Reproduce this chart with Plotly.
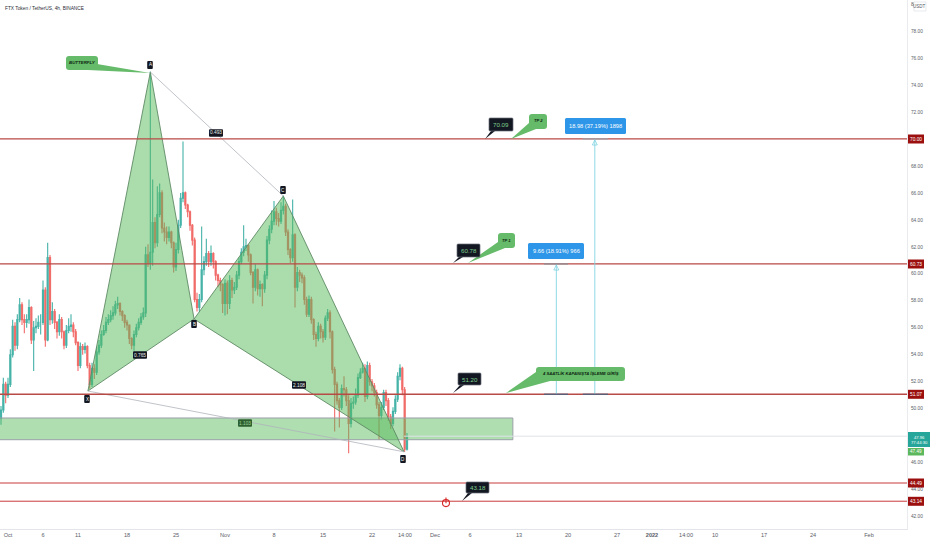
import plotly.graph_objects as go
import pandas as pd

PW, PH = 907.0, 529.0
START = "2021-09-30 00:00"
CLOSES = [49.9,51.8,51.0,51.8,54.0,56.1,54.7,56.6,57.7,56.6,
56.4,56.6,57.5,55.1,56.0,56.1,56.4,56.4,58.8,55.1,
61.2,56.6,57.2,56.4,55.7,56.6,55.7,54.7,55.8,56.1,
56.2,55.7,54.9,53.2,54.6,54.4,54.6,53.2,51.8,53.0,
52.7,54.2,54.7,55.5,55.8,56.4,56.6,56.9,57.1,57.7,
57.8,57.2,56.9,56.4,56.2,55.2,54.7,55.5,56.0,56.4,
56.8,57.1,61.4,60.8,61.6,63.8,62.3,64.4,66.0,63.4,
63.1,62.7,63.1,62.3,60.5,61.8,63.6,65.6,66.0,65.1,
64.6,63.6,62.5,58.1,57.5,58.1,60.3,60.9,61.5,60.9,
61.5,60.9,59.9,59.5,59.2,57.8,59.3,57.8,59.5,58.8,
59.0,59.9,60.9,61.6,62.0,62.1,61.4,60.1,59.0,60.3,
58.9,59.2,58.9,59.9,62.5,63.3,63.9,64.6,64.1,63.9,
64.7,65.0,63.1,61.8,61.2,62.9,59.0,60.1,59.9,59.7,
58.1,57.0,58.1,56.6,55.5,55.2,56.1,55.7,55.3,56.7,
57.1,55.7,52.9,51.8,50.6,50.1,51.5,51.4,50.6,48.9,
50.4,50.5,51.0,52.3,52.7,53.0,50.9,53.2,52.0,51.7,
51.2,50.3,49.5,50.1,51.2,50.6,49.4,48.9,49.8,50.7,
52.4,53.0,51.4,47.0,47.96]
HIGHS = [50.2,52.3,52.0,52.3,54.4,56.6,56.4,57.0,58.2,57.9,
57.0,57.0,58.1,57.6,56.5,56.7,56.9,57.0,59.5,59.0,
62.3,61.4,57.9,57.4,56.5,57.0,56.8,55.8,56.2,56.7,
57.0,56.4,55.9,55.0,54.9,54.8,54.9,54.7,53.4,53.4,
53.3,54.6,55.1,55.8,56.2,56.8,57.0,57.3,57.6,58.0,
58.3,57.9,57.3,57.0,56.6,56.2,55.3,55.8,56.3,56.7,
57.1,57.5,62.0,62.2,75.0,67.0,64.2,66.5,66.7,66.2,
63.8,63.5,63.5,63.2,62.4,62.3,64.0,66.0,69.8,66.1,
65.2,64.7,63.7,62.7,58.6,58.5,63.5,61.3,62.6,61.7,
62.1,61.6,61.0,60.0,59.7,59.3,59.6,59.5,59.9,59.7,
59.4,60.2,61.2,61.9,63.6,62.6,62.2,61.5,60.2,60.7,
60.4,59.5,59.3,60.2,62.8,63.6,64.7,65.4,64.9,64.5,
65.3,65.8,65.2,63.3,61.9,65.5,63.0,60.5,60.3,60.1,
59.9,58.3,58.4,58.3,56.7,55.7,56.4,56.3,55.9,56.9,
57.4,57.3,55.8,53.1,52.0,50.8,51.8,52.4,51.6,51.0,
50.8,50.9,51.5,52.6,53.0,53.4,53.3,53.5,53.4,52.2,
51.9,51.4,50.5,50.5,51.4,51.4,50.8,49.6,50.1,51.0,
52.7,53.3,53.1,51.6,48.2]
LOWS = [48.8,49.7,50.4,50.8,51.6,53.8,54.3,54.4,56.4,56.2,
55.6,56.0,56.3,54.8,52.8,55.6,55.9,55.5,56.2,54.6,
55.0,56.2,56.3,55.9,55.2,55.4,55.2,54.4,54.5,55.6,
55.7,55.3,54.7,52.8,53.0,54.0,54.1,53.0,51.5,51.6,
52.2,52.5,54.0,54.5,55.4,55.6,56.2,56.4,56.6,56.9,
57.4,56.9,56.5,56.0,55.8,54.8,54.4,54.3,55.3,55.8,
56.2,56.6,56.8,60.5,60.3,60.6,61.9,62.0,64.2,63.0,
62.4,62.2,62.4,61.9,60.1,60.2,61.5,63.4,65.3,64.8,
64.2,63.2,62.1,57.9,57.2,57.2,57.9,59.9,60.6,60.5,
60.6,60.4,59.5,59.0,58.7,57.1,56.9,57.0,57.4,58.2,
58.5,58.8,59.6,60.7,61.3,61.7,60.9,59.9,57.8,58.7,
58.4,58.3,57.6,58.6,59.6,62.2,63.0,63.6,63.6,63.5,
63.7,64.4,62.8,61.4,60.8,60.9,57.5,58.7,59.4,59.3,
57.7,56.8,56.8,56.3,55.1,54.6,55.0,55.2,54.9,55.1,
56.5,55.2,52.6,48.3,50.3,48.6,49.9,50.9,50.2,46.7,
48.6,50.0,50.3,50.8,52.2,52.6,50.5,50.7,51.7,51.3,
50.9,50.0,47.7,49.2,49.9,50.2,49.1,48.5,48.7,49.6,
50.5,52.1,51.0,46.8,46.9]
OPENS = [49.3] + CLOSES[:-1]

PATTERN_X = ["2021-10-12 10:00", "2021-10-21 08:00", "2021-10-27 14:00", "2021-11-09 08:00", "2021-11-26 14:00"]
PATTERN_Y = [51.31, 74.96, 56.65, 65.77, 46.8]
LEVELS = [70.00, 60.73, 51.07, 44.49, 43.14]
ZONE = [47.70, 49.31]
ZONE_X = ["2021-09-20", "2021-12-12 03:00"]
LAST_PRICE = 47.96
TICK_VALS = ["2021-10-01","2021-10-06","2021-10-11","2021-10-18","2021-10-25","2021-11-01","2021-11-08",
             "2021-11-15","2021-11-22","2021-11-26 17:00","2021-12-01","2021-12-06","2021-12-13","2021-12-20",
             "2021-12-27","2022-01-01","2022-01-05 20:40","2022-01-10","2022-01-17","2022-01-24","2022-02-01"]
TICK_TEXT = ["Oct","6","11","18","25","Nov","8","15","22","14:00","Dec","6","13","20","27","<b>2022</b>","14:00","10","17","24","Feb"]
Y_TICKS = [42,44,46,50,52,54,56,58,60,62,64,66,68,70,72,74,76,78,80]
X_RANGE = ["2021-09-29 20:34", "2022-02-06 10:20"]
Y_RANGE = [41.08, 80.30]
GREEN = "#66bb6a"
DARK = "#131722"

dates = pd.date_range(START, periods=len(CLOSES), freq="8h")

fig = go.Figure()
fig.add_trace(go.Candlestick(x=dates, open=OPENS, high=HIGHS, low=LOWS, close=CLOSES,
    increasing=dict(line=dict(color="#26a69a", width=1.1), fillcolor="#26a69a"),
    decreasing=dict(line=dict(color="#ef5350", width=1.1), fillcolor="#ef5350"),
    whiskerwidth=0, opacity=0.85, hoverinfo="skip"))

def add_line(x, y, color, width=1, dash=None, mode="lines", marker=None):
    fig.add_trace(go.Scatter(x=x, y=y, mode=mode, line=dict(color=color, width=width, dash=dash), marker=marker, hoverinfo="skip"))

# Entry zone
fig.add_trace(go.Scatter(x=[ZONE_X[0], ZONE_X[1], ZONE_X[1], ZONE_X[0], ZONE_X[0]],
    y=[ZONE[0], ZONE[0], ZONE[1], ZONE[1], ZONE[0]], mode="lines", fill="toself",
    fillcolor="rgba(86,185,90,0.47)", line=dict(color="#9a9fa8", width=1), hoverinfo="skip"))

# XABCD triangles
EDGE = "#5f8a64"
for idx in ([0, 1, 2, 0], [2, 3, 4, 2]):
    fig.add_trace(go.Scatter(x=[PATTERN_X[i] for i in idx], y=[PATTERN_Y[i] for i in idx], mode="lines",
        fill="toself", fillcolor="rgba(86,185,90,0.5)", line=dict(color=EDGE, width=0.9), hoverinfo="skip"))
add_line([PATTERN_X[0], PATTERN_X[4]], [PATTERN_Y[0], PATTERN_Y[4]], "#b0b4bb", 0.8)
add_line([PATTERN_X[1], PATTERN_X[3]], [PATTERN_Y[1], PATTERN_Y[3]], "#b0b4bb", 0.8)

# Horizontal levels
for lv, col, w in zip(LEVELS, ["#b84a46", "#b84a46", "#b84a46", "#c93a3a", "#c93a3a"], [1.3, 1.3, 1.3, 1, 1]):
    add_line(X_RANGE, [lv, lv], col, w)
add_line([PATTERN_X[4], X_RANGE[1]], [LAST_PRICE, LAST_PRICE], "#dfe3e8", 1)

# Measure tools
add_line(["2021-12-18 08:00"] * 2, [LEVELS[2], LEVELS[1]], "#82d4e2", 0.9)
add_line(["2021-12-23 20:00"] * 2, [LEVELS[2], LEVELS[0]], "#82d4e2", 0.9)
add_line(["2021-12-18 08:00"], [LEVELS[1] - 0.08], "#82d4e2", mode="markers",
         marker=dict(symbol="arrow-up-open", size=5, color="#82d4e2", line=dict(width=0.8, color="#82d4e2")))
add_line(["2021-12-23 20:00"], [LEVELS[0] - 0.08], "#82d4e2", mode="markers",
         marker=dict(symbol="arrow-up-open", size=5, color="#82d4e2", line=dict(width=0.8, color="#82d4e2")))
add_line(["2021-12-16 14:00", "2021-12-20 00:00"], [LEVELS[2], LEVELS[2]], "#4d6480", 1.2)
add_line(["2021-12-22 03:00", "2021-12-25 17:00"], [LEVELS[2], LEVELS[2]], "#4d6480", 1.2)
add_line(["2021-12-16 14:00", "2021-12-20 00:00"], [LEVELS[1], LEVELS[1]], "#8a8f98", 1.2)
add_line(["2021-12-22 03:00", "2021-12-25 17:00"], [LEVELS[0], LEVELS[0]], "#a0a4ab", 1.2)

# Power icon
add_line(["2021-12-02 13:40"], [43.0], "#d62828", mode="markers",
         marker=dict(symbol="circle-open", size=7, line=dict(width=1.1, color="#d62828")))
add_line(["2021-12-02 13:40"], [43.2], "#d62828", mode="markers",
         marker=dict(symbol="line-ns", size=4, line=dict(width=1.1, color="#d62828")))

shapes, annos = [], []
def P(x, y):
    return x / PW, 1 - y / PH

def rbox(x0, y0, x1, y1, fill, line=None, r=2):
    a, b = P(x0, y0); c, d = P(x1, y1)
    rx, ry = r / PW, r / PH
    path = (f"M {a+rx} {b} L {c-rx} {b} Q {c} {b} {c} {b-ry} L {c} {d+ry} Q {c} {d} {c-rx} {d} "
            f"L {a+rx} {d} Q {a} {d} {a} {d+ry} L {a} {b-ry} Q {a} {b} {a+rx} {b} Z")
    shapes.append(dict(type="path", xref="paper", yref="paper", path=path, fillcolor=fill,
                       line=dict(color=line or fill, width=0.7 if line else 0), layer="above"))

def tri(p1, p2, tip, fill):
    pts = [P(*p1), P(*p2), P(*tip)]
    path = "M " + " L ".join(f"{a} {b}" for a, b in pts) + " Z"
    shapes.append(dict(type="path", xref="paper", yref="paper", path=path, fillcolor=fill,
                       line=dict(width=0), layer="above"))

def txt(cx, cy, s, size, color, family="Liberation Sans"):
    a, b = P(cx, cy)
    annos.append(dict(xref="paper", yref="paper", x=a, y=b, text=s, showarrow=False, xanchor="center", yanchor="middle",
                      font=dict(size=size, color=color, family=family), borderpad=0))

# Green callouts
for box, base, tip, s, fs in [
    ((66, 56, 98, 70), ((97, 64), (88, 70)), (150, 73), "BUTTERFLY", 4.4),
    ((529, 114, 547, 129), ((529, 123), (536, 129)), (511, 139), "TP 2", 4.2),
    ((498, 233, 515, 248), ((498, 242), (505, 248)), (468, 263), "TP 1", 4.2),
    ((536, 367, 625, 381), ((536, 372), (550, 381)), (506, 393), "4 SAATLİK KAPANIŞTA İŞLEME GİRİŞ", 4.2),
]:
    rbox(*box, GREEN, r=3)
    tri(*base, tip, GREEN)
    txt((box[0] + box[2]) / 2, (box[1] + box[3]) / 2 - 0.5, f"<b><i>{s}</i></b>", fs, "#0d1f10")

# Dark price callouts
for box, tip, s in [
    ((489, 118, 513, 131), (485, 139), "70.09"),
    ((457, 244, 480, 257), (453, 263), "60.78"),
    ((458, 373, 481, 385), (453, 393), "51.20"),
    ((466, 482, 489, 493), (462, 501), "43.18"),
]:
    tri((box[0] + 2, box[3]), (box[0] + 6, box[3]), tip, DARK)
    rbox(*box, DARK, line="#6b6f78", r=1)
    txt((box[0] + box[2]) / 2, (box[1] + box[3]) / 2, s, 6.2, "#7fcf8f")

# Pattern labels
for cx, cy, s in [(150, 65, "A"), (87, 399, "X"), (194, 324, "B"), (283, 190, "C"), (403, 459, "D")]:
    rbox(cx - 2.8, cy - 4, cx + 2.8, cy + 4, DARK, r=1)
    txt(cx, cy, s, 4.5, "#ffffff")
for cx, cy, s, fill in [(216, 133, "0.493", DARK), (140, 355, "0.765", DARK), (299, 385, "2.108", DARK), (245, 423, "1.103", "#2e5f2e")]:
    rbox(cx - 7, cy - 3.7, cx + 7, cy + 3.7, fill, r=1)
    txt(cx, cy, s, 4.8, "#e8f0e8" if fill == DARK else "#9ed49f")

# Measure labels
rbox(565, 118, 626, 134, "#2e96e8", r=1.5)
txt(595.5, 126, "18.98 (37.19%) 1898", 5.7, "#ffffff")
rbox(528, 243, 584, 259, "#2e96e8", r=1.5)
txt(556, 251, "9.66 (18.91%) 966", 5.7, "#ffffff")

# Title
annos.append(dict(xref="paper", yref="paper", x=3 / PW, y=1 - 8 / PH, text="FTX Token / TetherUS, 4h, BINANCE",
                  showarrow=False, xanchor="left", yanchor="middle", font=dict(size=4.8, color="#2a2d35", family="Liberation Sans")))

# Axis price tags
def tag(y0, y1, x1, s, fill, fs=4.8):
    shapes.append(dict(type="rect", xref="paper", yref="paper", x0=908 / PW, x1=x1 / PW, y0=1 - y1 / PH, y1=1 - y0 / PH,
                       fillcolor=fill, line=dict(width=0), layer="above"))
    annos.append(dict(xref="paper", yref="paper", x=(908 + x1) / 2 / PW, y=1 - (y0 + y1) / 2 / PH, text=s, showarrow=False,
                      xanchor="center", yanchor="middle", align="center",
                      font=dict(size=fs, color="#ffffff", family="Liberation Sans"), borderpad=0))

for lv, yc in zip(LEVELS, [139, 264, 394.3, 483, 501.3]):
    tag(yc - 4.5, yc + 4.5, 924, f"{lv:.2f}", "#9c0f0f")
tag(432, 447, 930, "47.96<br>77:44:30", "#26a69a", 4.2)
tag(448, 455.5, 924, "47.49", "#5cb85c", 4.6)

# USDT unit box
shapes.append(dict(type="rect", xref="paper", yref="paper", x0=914 / PW, x1=926 / PW, y0=1 - 11 / PH, y1=1 - 2 / PH,
                   fillcolor="#ffffff", line=dict(color="#d8dbe0", width=0.6), layer="above"))
txt(920, 6.5, "USDT", 4.5, "#555a63")

fig.update_layout(
    width=932, height=550, margin=dict(l=0, r=25, t=0, b=21), autosize=False,
    paper_bgcolor="#ffffff", plot_bgcolor="#ffffff", showlegend=False, hovermode=False,
    shapes=shapes, annotations=annos,
    font=dict(family="Liberation Sans"),
    xaxis=dict(range=X_RANGE, type="date", rangeslider=dict(visible=False), showgrid=False, zeroline=False,
               tickmode="array", tickvals=TICK_VALS, ticktext=TICK_TEXT, ticks="", showline=True, linecolor="#e3e5ea", linewidth=1,
               tickfont=dict(size=5.6, color="#5a5e68"), tickangle=0),
    yaxis=dict(range=Y_RANGE, side="right", showgrid=False, zeroline=False, tickmode="array", tickvals=Y_TICKS,
               ticktext=[f"{v:.2f}" for v in Y_TICKS], ticks="outside", ticklen=2, tickcolor="#ffffff",
               showline=True, linecolor="#e9ebef", linewidth=1,
               tickfont=dict(size=4.8, color="#5a5e68")),
)
fig.write_html("out.html", config=dict(displayModeBar=False, staticPlot=True),
               post_script="document.body.style.margin='0';")
